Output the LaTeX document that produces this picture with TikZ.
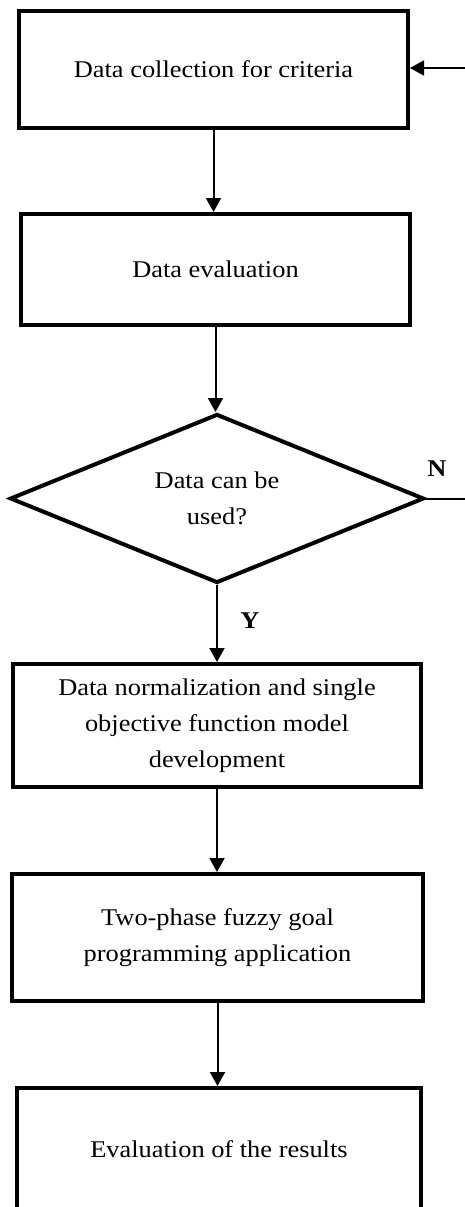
\documentclass[tikz,border=0pt]{standalone}
\usepackage{fontspec}
\setmainfont{Liberation Serif}[FakeStretch=1.1]
\usetikzlibrary{shapes.geometric,arrows.meta}
\newcommand\boxfont{\fontsize{24}{36}\selectfont}
\begin{document}
\begin{tikzpicture}[x=1pt,y=-1pt,
  stepbox/.style={draw, rectangle, line width=4pt, inner sep=0pt, align=center, font=\boxfont},
  decision/.style={draw, diamond, line width=4pt, inner sep=0pt, align=center, font=\boxfont},
  lab/.style={inner sep=0pt, font=\boxfont\bfseries},
  conn/.style={line width=2pt},
  arr/.style={conn, -{Triangle[width=15pt,length=14pt]}}]
\useasboundingbox (0,0) rectangle (465,1207);
\clip (0,0) rectangle (465,1207);
\node[stepbox, minimum width=389pt, minimum height=117pt] (b1) at (213.5,69.5) {Data collection for criteria};
\node[stepbox, minimum width=389pt, minimum height=111pt] (b2) at (215.5,269.5) {Data evaluation};
\node[decision, minimum width=414pt, minimum height=169pt, aspect=2.45] (d) at (217,498.5) {Data can be\\used?};
\node[stepbox, minimum width=408pt, minimum height=123pt] (b3) at (217,725.5) {Data normalization and single\\objective function model\\development};
\node[stepbox, minimum width=411pt, minimum height=127pt] (b4) at (217.5,937.5) {Two-phase fuzzy goal\\programming application};
\node[stepbox, minimum width=404pt, minimum height=122pt] (b5) at (219,1149) {Evaluation of the results};
\node[lab] (nl) at (437,469) {N};
\node[lab] (yl) at (250,621) {Y};
\coordinate (fb) at (465,68);
\coordinate (ne) at (465,498.5);
\draw[arr] (fb) -- (fb -| b1.east);
\draw[arr] (b1.south) -- (b1.south |- b2.north);
\draw[arr] (b2.south) -- (b2.south |- d.north);
\draw[arr] (d.south) -- (d.south |- b3.north);
\draw[arr] (b3.south) -- (b3.south |- b4.north);
\draw[arr] (b4.south) -- (b4.south |- b5.north);
\draw[conn] (d.east) -- (ne);
\end{tikzpicture}
\end{document}
